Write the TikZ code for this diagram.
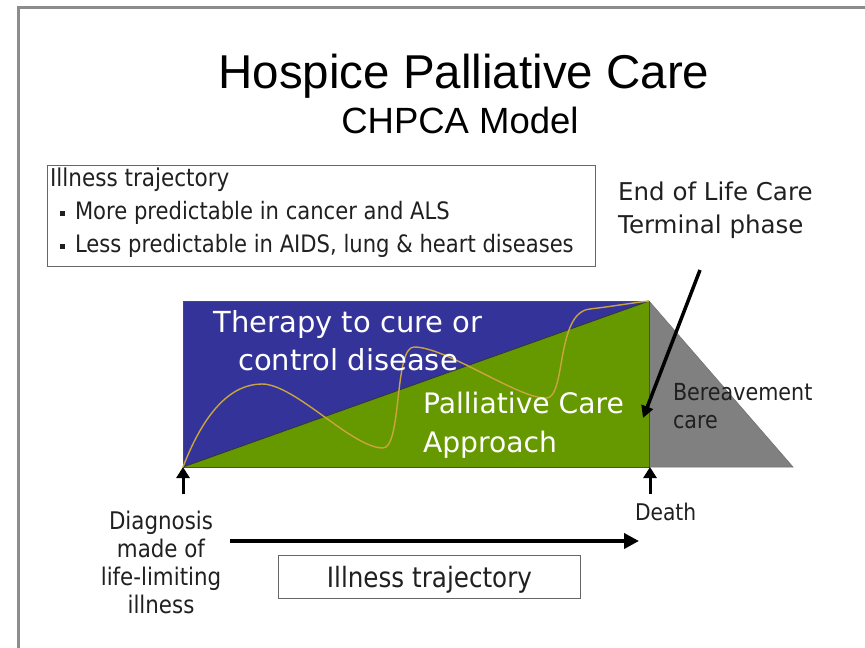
\documentclass[tikz,border=0pt]{standalone}
\usepackage{fontspec}
\setmainfont{DejaVu Sans}
\newfontfamily\titlefont{Liberation Sans}
\newfontfamily\tah{DejaVu Sans}[FakeStretch=0.88]
\usetikzlibrary{arrows.meta}
\definecolor{cblue}{HTML}{333399}
\definecolor{cgreen}{HTML}{669900}
\definecolor{cgray}{HTML}{808080}
\definecolor{framec}{HTML}{8C8C8C}
\definecolor{wavec}{HTML}{C9A440}
\definecolor{txtc}{HTML}{202020}
\newcommand{\myfs}[1]{\fontsize{#1}{#1}\selectfont}
\begin{document}
\begin{tikzpicture}[x=1pt,y=-1pt,
  lbl/.style={inner sep=0pt, outer sep=0pt, text=txtc, font=\tah},
  wlbl/.style={inner sep=0pt, outer sep=0pt, text=white},
  thinbox/.style={draw=black!60, line width=0.9pt, inner sep=0pt},
  bullet/.style={fill=txtc, inner sep=0pt, minimum size=5pt},
  bigarrow/.style={line width=4pt, -{Triangle[width=15pt,length=15pt]}},
  uparrow/.style={line width=3pt, -{Triangle[width=13pt,length=11pt]}},
]
\useasboundingbox (0,0) rectangle (865,648);
\fill[white] (0,0) rectangle (865,648);
% frame
\draw[framec, line width=3pt] (18,648) -- (18,7) -- (865,7);

% title
\node[inner sep=0pt, text=black, anchor=base] (title) at (464,88) {\titlefont\myfs{47.5}Hospice Palliative Care};
\node[inner sep=0pt, text=black, anchor=base] (subtitle) at (460,133) {\titlefont\myfs{36.5}CHPCA Model};

% info box
\node[thinbox, minimum width=548pt, minimum height=101pt, anchor=north west] (infobox) at (47,165) {};
\node[lbl, anchor=base west] (h1) at (50,186) {\myfs{24.5}Illness trajectory};
\node[bullet] (b1) at (62,213) {};
\node[lbl, anchor=base west] (l1) at (75,219) {\myfs{24}More predictable in cancer and ALS};
\node[bullet] (b2) at (62,246) {};
\node[lbl, anchor=base west] (l2) at (75,252) {\myfs{24}Less predictable in AIDS, lung \& heart diseases};

% end of life
\node[inner sep=0pt, text=txtc, anchor=base west] (eol1) at (618,200) {\myfs{24.5}End of Life Care};
\node[inner sep=0pt, text=txtc, anchor=base west] (eol2) at (618,233) {\myfs{24.5}Terminal phase};

% main diagram
\coordinate (BL) at (183,467);
\coordinate (TL) at (183,301);
\coordinate (TR) at (649,301);
\coordinate (BR) at (649,467);
\coordinate (GR) at (793,467);
\fill[cgray] (TR) -- (BR) -- (GR) -- cycle;
\draw[black!55, line width=0.6pt] (TR) -- (GR) -- (BR);
\fill[cblue] (TL) -- (TR) -- (BL) -- cycle;
\fill[cgreen] (BL) -- (TR) -- (BR) -- cycle;
\draw[black!80, line width=0.8pt] (BL) -- (TR);
\draw[black!70, line width=0.9pt] (TL) rectangle (BR);

% wave
\draw[wavec, line width=1.4pt]
  (BL) .. controls (205,410) and (232,384) .. (262,384)
       .. controls (295,384) and (352,448) .. (383,448)
       .. controls (402,448) and (394,347) .. (414,347)
       .. controls (447,347) and (520,400) .. (547,398)
       .. controls (566,396) and (556,312) .. (590,309)
       .. controls (615,306) and (638,302) .. (TR);

% labels inside
\node[wlbl, anchor=base] (th1) at (348,332) {\myfs{29}Therapy to cure or};
\node[wlbl, anchor=base] (th2) at (348,370) {\myfs{29}control disease};
\node[wlbl, anchor=base west] (pc1) at (423,413) {\myfs{28.2}Palliative Care};
\node[wlbl, anchor=base west] (pc2) at (423,452) {\myfs{28.2}Approach};
\node[lbl, anchor=base west] (bc1) at (673,400) {\myfs{23.5}Bereavement};
\node[lbl, anchor=base west] (bc2) at (673,428) {\myfs{23.5}care};

% end of life arrow
\coordinate (eolTail) at (700,270);
\coordinate (eolTip) at (643,418);
\draw[line width=3.5pt, -{Triangle[width=12pt,length=12pt]}] (eolTail) -- (eolTip);

% up arrows
\coordinate (dTail) at (183,494);
\coordinate (deTail) at (650,494);
\coordinate (deTip) at (650,467);
\draw[uparrow] (dTail) -- (BL);
\draw[uparrow] (deTail) -- (deTip);

% bottom labels
\node[lbl, anchor=base] (dg1) at (161,529) {\myfs{24.3}Diagnosis};
\node[lbl, anchor=base] (dg2) at (161,557) {\myfs{24.3}made of};
\node[lbl, anchor=base] (dg3) at (161,585) {\myfs{24.3}life-limiting};
\node[lbl, anchor=base] (dg4) at (161,613) {\myfs{24.3}illness};
\node[lbl, anchor=base west] (death) at (635,520) {\myfs{23}Death};

% trajectory arrow
\coordinate (trA) at (230,541);
\coordinate (trB) at (639,541);
\draw[bigarrow] (trA) -- (trB);

% bottom box
\node[thinbox, minimum width=302pt, minimum height=43pt, anchor=north west] (trbox) at (278,555) {};
\node[lbl, anchor=base] (trtext) at (trbox.center |- 0,587) {\myfs{28}Illness trajectory};
\end{tikzpicture}
\end{document}
